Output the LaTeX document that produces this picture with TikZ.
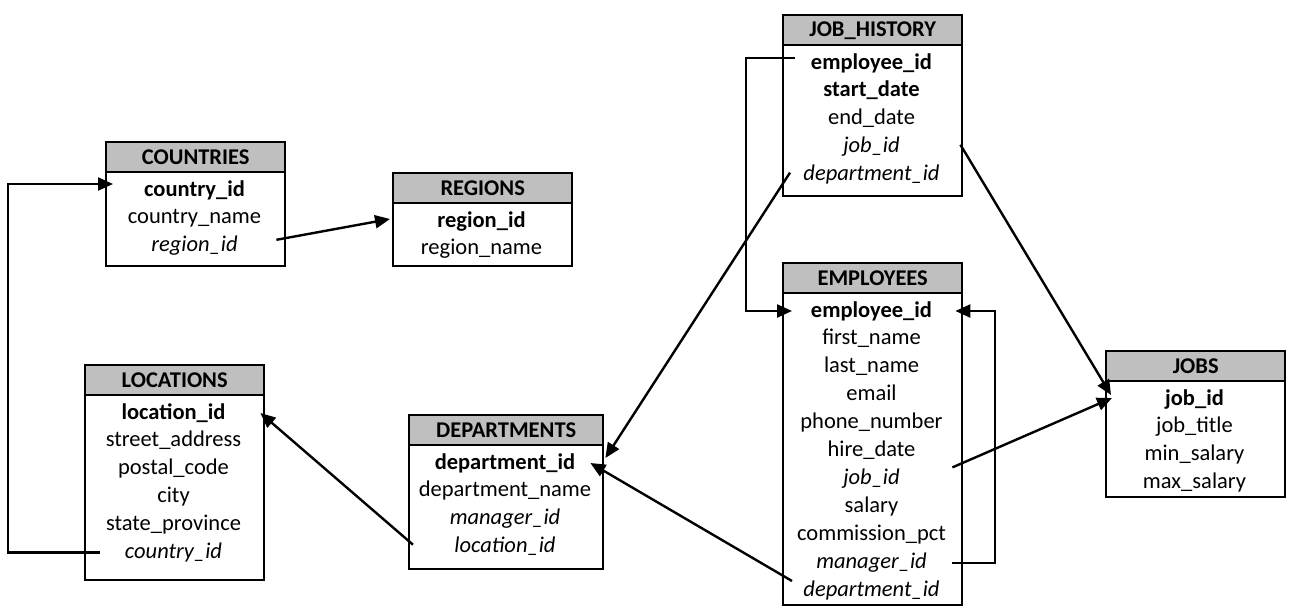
\documentclass[tikz,border=0pt]{standalone}
\usepackage{fontspec}
\setmainfont{Carlito}
\usetikzlibrary{arrows.meta,calc}
\definecolor{headgray}{RGB}{191,191,191}

\begin{document}
\begin{tikzpicture}[x=1pt,y=-1pt,
	tblhead/.style={draw,line width=2.4pt,fill=headgray,anchor=north west,inner sep=0pt,minimum height=30pt,font=\bfseries},
	tblbody/.style={draw,line width=2.4pt,anchor=north west,inner sep=0pt},
	field/.style={inner sep=0pt,text height=17pt,text depth=5pt},
	link/.style={line width=2.4pt,-{Triangle[length=15pt,width=13pt]}}]
	\fontsize{22.5}{27}\selectfont
	\useasboundingbox (0,0) rectangle (1293,614);
	\def\rowgap{27.9}
	% #1 name, #2 x, #3 top, #4 width, #5 body height, #6 title, #7 fields
	\def\erdtab#1#2#3#4#5#6#7{
		\node[tblhead,minimum width=#4pt] (#1-head) at (#2,#3) {#6};
		\node[tblbody,minimum width=#4pt,minimum height=#5pt] (#1-body) at (#2,#3+30) {};
		\foreach \f [count=\i] in {#7}
			\node[field] (#1-\i) at (#2+#4/2,#3+49+\rowgap*\i-\rowgap) {\f};
	}
	
	\erdtab{cty}{105}{141}{179}{94}{COUNTRIES}{\bfseries country\_id, country\_name, \itshape region\_id}
	\erdtab{reg}{392}{172}{179}{63}{REGIONS}{\bfseries region\_id, region\_name}
	\erdtab{loc}{84}{364}{179}{185}{LOCATIONS}{\bfseries location\_id, street\_address, postal\_code, city, state\_province, \itshape country\_id}
	\erdtab{dep}{408}{414}{194}{124}{DEPARTMENTS}{\bfseries department\_id, department\_name, \itshape manager\_id, \itshape location\_id}
	\erdtab{jh}{782}{14}{179}{151}{JOB\_HISTORY}{\bfseries employee\_id, \bfseries start\_date, end\_date, \itshape job\_id, \itshape department\_id}
	\erdtab{emp}{782}{262}{179}{312}{EMPLOYEES}{\bfseries employee\_id, first\_name, last\_name, email, phone\_number, hire\_date, \itshape job\_id, salary, commission\_pct, \itshape manager\_id, \itshape department\_id}
	\erdtab{job}{1105}{350}{179}{116}{JOBS}{\bfseries job\_id, job\_title, min\_salary, max\_salary}
	
	\coordinate (railL) at (8,370);
	\coordinate (railJ) at (746,180);
	\coordinate (railM) at (995,430);
	
	\draw[link] ($(loc-body.west |- loc-6)+(16,0)$) -| (railL) |- ($(cty-body.west |- cty-1)+(8,-6)$);
	\draw[link] ($(cty-body.east |- cty-3)+(-10,-6)$) -- ($(reg-body.west |- reg-1)+(-2,-2)$);
	\draw[link] ($(dep-body.west |- dep-4)+(5,-2)$) -- ($(loc-body.east |- loc-1)+(-5,0)$);
	\draw[link] ($(jh-body.west |- jh-5)+(8,-2)$) -- ($(dep-body.east |- dep-1)+(1,-5)$);
	\draw[link] ($(jh-body.west |- jh-1)+(13,-5)$) -| (railJ) |- ($(emp-body.west |- emp-1)+(10,0)$);
	\draw[link] ($(jh-body.east |- jh-4)+(-3,-2)$) -- ($(job-body.west |- job-1)+(6,-4)$);
	\draw[link] ($(emp-body.east |- emp-7)+(-11,-11)$) -- ($(job-body.west |- job-1)+(7,-1)$);
	\draw[link] ($(emp-body.east |- emp-10)+(-11,1)$) -| (railM) |- ($(emp-body.east |- emp-1)+(-8,0)$);
	\draw[link] ($(emp-body.west |- emp-11)+(10,-9)$) -- ($(dep-body.east |- dep-1)+(-14,0)$);
\end{tikzpicture}
\end{document}
